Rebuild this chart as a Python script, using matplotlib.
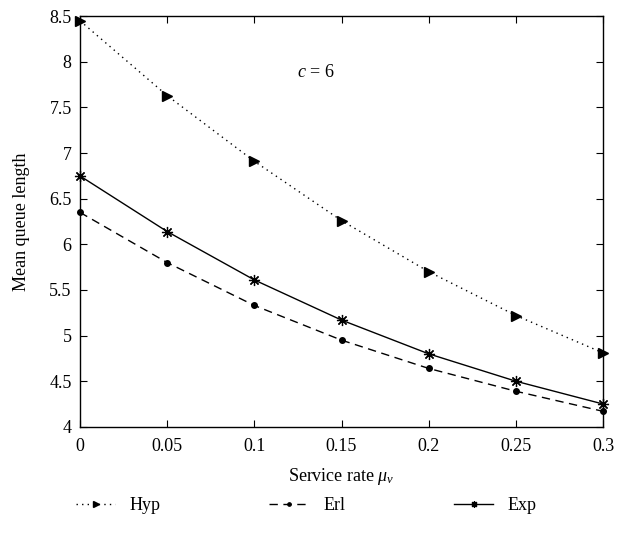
import matplotlib
matplotlib.use('Agg')
import matplotlib.pyplot as plt

plt.rcParams['font.family'] = 'Liberation Serif'
plt.rcParams['mathtext.fontset'] = 'custom'
plt.rcParams['mathtext.rm'] = 'Liberation Serif'
plt.rcParams['mathtext.it'] = 'Liberation Serif:italic'

# service rate and mean queue lengths
mu = [0, 0.05, 0.1, 0.15, 0.2, 0.25, 0.3]
hyp = [8.45, 7.63, 6.91, 6.26, 5.70, 5.22, 4.81]
erl = [6.35, 5.80, 5.33, 4.95, 4.64, 4.39, 4.17]
exp = [6.75, 6.14, 5.61, 5.17, 4.80, 4.50, 4.25]

xticks = [0, 0.05, 0.1, 0.15, 0.2, 0.25, 0.3]
xticklabels = ['0', '0.05', '0.1', '0.15', '0.2', '0.25', '0.3']
yticks = [4, 4.5, 5, 5.5, 6, 6.5, 7, 7.5, 8, 8.5]
yticklabels = ['4', '4.5', '5', '5.5', '6', '6.5', '7', '7.5', '8', '8.5']

fig = plt.figure(figsize=(6.25, 5.41), dpi=100)
ax = fig.add_axes([0.128, 0.211, 0.837, 0.759])

ax.plot(mu, hyp, color='black', linestyle=(0, (1, 3)), linewidth=1,
        marker='>', markersize=7, label='Hyp', clip_on=False)
ax.plot(mu, erl, color='black', linestyle=(0, (6, 4)), linewidth=1,
        marker='o', markersize=4, label='Erl', clip_on=False)
ax.plot(mu, exp, color='black', linestyle='-', linewidth=1,
        marker=(8, 2, 0), markersize=8, markeredgewidth=0.9, label='Exp', clip_on=False)

ax.set_xlim(0, 0.3)
ax.set_ylim(4, 8.5)
ax.set_xticks(xticks)
ax.set_xticklabels(xticklabels)
ax.set_yticks(yticks)
ax.set_yticklabels(yticklabels)
ax.tick_params(direction='in', top=True, right=True, labelsize=13, length=5)
ax.tick_params(axis='x', pad=8)
ax.tick_params(axis='y', pad=6)
for s in ax.spines.values():
    s.set_linewidth(1)

ax.set_xlabel('Service rate $\\mu_\\nu$', fontsize=13, labelpad=8)
ax.set_ylabel('Mean queue length', fontsize=13, labelpad=14)
ax.text(0.135, 7.88, '$c$ = 6', fontsize=13, ha='center', va='center')

fig.legend(loc='lower center', bbox_to_anchor=(0.49, 0.02), ncol=3, frameon=False,
           fontsize=13, columnspacing=6.0, handlelength=2.2, markerscale=0.6)

fig.savefig('out.png', dpi=100)
